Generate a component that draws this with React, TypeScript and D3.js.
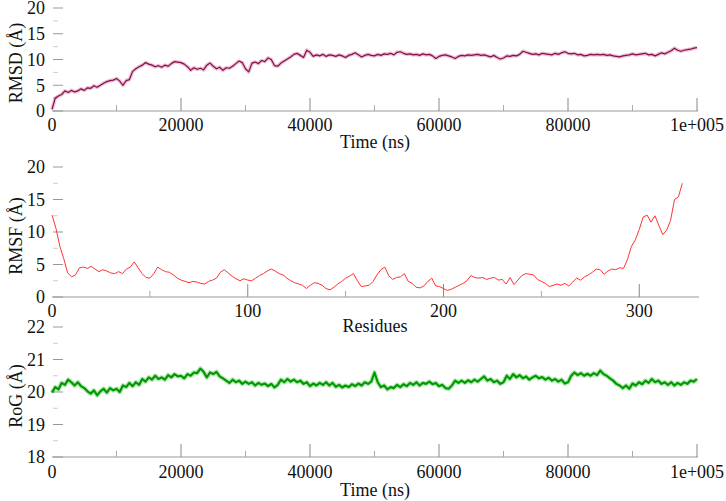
import React from 'react';
import * as d3 from 'd3';

// RMSD (Å), one sample every 500 ns from 0 to 100000 ns
const rmsdValues = [
  0.3, 2.5, 2.9, 3.2, 3.9, 3.6, 4.0, 3.7, 3.9, 4.3,
  4.0, 4.5, 4.4, 4.9, 4.6, 5.0, 5.4, 5.7, 5.9, 6.0,
  6.3, 5.8, 5.0, 5.9, 6.1, 7.7, 8.2, 8.6, 8.9, 9.4,
  9.1, 8.9, 8.6, 8.8, 8.5, 8.9, 8.7, 9.2, 9.6, 9.5,
  9.4, 9.1, 8.6, 7.9, 8.4, 8.1, 8.3, 8.0, 8.9, 9.3,
  8.7, 8.2, 8.5, 7.9, 8.4, 8.3, 8.7, 9.2, 9.7, 9.4,
  8.2, 7.6, 9.3, 9.5, 9.2, 9.8, 9.6, 10.3, 10.0, 8.8,
  8.7, 9.3, 9.7, 10.1, 10.5, 11.0, 11.2, 10.8, 10.4, 11.8,
  11.4, 10.6, 10.9, 10.7, 11.0, 10.6, 10.9, 10.8, 10.6, 10.9,
  10.7, 10.4, 10.8, 11.0, 11.3, 10.9, 10.5, 10.8, 11.0, 10.8,
  10.7, 11.0, 10.8, 11.1, 11.0, 11.2, 10.9, 11.4, 11.5, 11.2,
  11.0, 11.1, 10.9, 11.0, 10.8, 11.1, 10.9, 11.0, 10.7, 10.2,
  10.6, 10.8, 10.9, 10.7, 10.5, 10.2, 10.6, 10.8, 10.7, 10.9,
  10.8, 10.9, 11.0, 10.8, 10.9, 10.7, 10.5, 10.8, 10.4, 10.1,
  10.3, 10.7, 10.6, 10.8, 10.7, 11.0, 11.6, 11.4, 11.2, 11.0,
  11.1, 10.9, 11.2, 11.1, 11.0, 10.9, 11.2, 11.0, 11.3, 11.5,
  11.2, 11.1, 11.2, 10.9, 11.0, 10.7, 10.8, 11.0, 10.9, 11.0,
  10.9, 11.0, 10.8, 10.9, 10.7, 10.6, 10.5, 10.7, 10.8, 10.9,
  11.1, 10.9, 11.0, 11.1, 11.2, 10.9, 11.0, 10.7, 11.0, 11.3,
  11.1, 11.4, 11.7, 12.2, 11.8, 11.6, 11.8, 11.9, 12.0, 12.2,
  12.3,
];

// RMSF (Å), every second residue from 0 to 322
const rmsfValues = [
  12.6, 10.6, 7.8, 5.9, 3.7, 3.1, 3.4, 4.5, 4.6, 4.4,
  4.7, 4.3, 3.9, 4.2, 4.0, 3.7, 3.6, 3.9, 3.6, 4.3,
  4.6, 5.4, 4.5, 3.6, 3.0, 2.9, 3.6, 4.6, 4.2, 3.9,
  3.8, 3.4, 2.9, 2.6, 2.4, 2.2, 2.4, 2.3, 2.1, 2.0,
  2.4, 2.6, 2.9, 3.8, 4.2, 3.7, 3.2, 2.8, 2.5, 2.8,
  2.6, 2.5, 2.9, 3.3, 3.6, 4.0, 4.3, 4.0, 3.6, 3.4,
  2.9, 2.5, 2.2, 2.0, 1.8, 1.3, 1.8, 2.2, 2.1, 1.8,
  1.3, 1.1, 1.5, 2.0, 2.4, 2.9, 3.2, 3.6, 2.5, 1.6,
  1.7, 1.8, 2.4, 3.4, 4.2, 4.6, 3.3, 2.7, 3.0, 3.1,
  3.6, 2.4, 2.1, 1.5, 1.4, 1.7, 2.4, 2.9, 1.7, 1.6,
  1.3, 1.0, 1.2, 1.5, 1.8, 2.1, 2.5, 3.3, 3.0, 2.9,
  3.0, 2.7, 2.9, 3.0, 2.6, 2.7, 2.0, 3.0, 1.9, 2.6,
  3.3, 3.6, 3.5, 3.4, 2.7, 2.4, 2.1, 1.6, 1.8, 2.0,
  1.8, 2.1, 1.7, 2.3, 2.9, 2.6, 3.1, 3.4, 3.8, 4.3,
  4.2, 3.5, 4.0, 4.3, 4.2, 4.5, 4.4, 5.8, 7.8, 8.8,
  10.4, 12.3, 12.6, 11.5, 12.5, 11.0, 9.6, 10.3, 11.8, 15.0,
  15.4, 17.5,
];

// RoG (Å), one sample every 500 ns
const rogValues = [
  19.98, 20.15, 20.08, 20.28, 20.22, 20.38, 20.3, 20.2, 20.3, 20.18,
  20.12, 20.02, 19.95, 20.05, 19.9, 20.02, 20.1, 19.98, 20.12, 20.05,
  20.1, 20.0, 20.2, 20.15, 20.28, 20.18, 20.3, 20.22, 20.4, 20.32,
  20.45, 20.38, 20.5, 20.4, 20.45, 20.38, 20.52, 20.45, 20.55, 20.48,
  20.5, 20.42, 20.55, 20.5, 20.6, 20.58, 20.72, 20.62, 20.45, 20.6,
  20.55, 20.62, 20.48, 20.42, 20.35, 20.28, 20.38, 20.3, 20.35, 20.25,
  20.32, 20.25, 20.3, 20.2, 20.28, 20.22, 20.26, 20.18, 20.25, 20.14,
  20.22, 20.38, 20.3, 20.4, 20.32, 20.38, 20.3, 20.35, 20.25, 20.3,
  20.18, 20.26, 20.2, 20.28, 20.22, 20.3, 20.2, 20.28, 20.16, 20.22,
  20.14, 20.2, 20.15, 20.24, 20.18, 20.26, 20.2, 20.3, 20.25, 20.32,
  20.6, 20.3, 20.15, 20.2, 20.08, 20.15, 20.12, 20.22, 20.15, 20.24,
  20.18, 20.28, 20.22, 20.3, 20.2, 20.28, 20.25, 20.32, 20.24, 20.28,
  20.18, 20.22, 20.12, 20.1, 20.2, 20.35, 20.28, 20.35, 20.28, 20.36,
  20.3, 20.38, 20.32, 20.4, 20.48, 20.35, 20.4, 20.3, 20.35, 20.25,
  20.3, 20.5, 20.4, 20.55, 20.45, 20.52, 20.42, 20.48, 20.38, 20.45,
  20.5, 20.42, 20.46, 20.38, 20.44, 20.35, 20.4, 20.32, 20.38, 20.26,
  20.3, 20.5, 20.6, 20.52, 20.58, 20.5, 20.56, 20.5, 20.58, 20.52,
  20.66, 20.55, 20.5, 20.42, 20.35, 20.25, 20.2, 20.12, 20.2, 20.1,
  20.26, 20.2, 20.3, 20.24, 20.35, 20.28, 20.4, 20.3, 20.35, 20.25,
  20.3, 20.22, 20.3, 20.2, 20.28, 20.22, 20.3, 20.25, 20.35, 20.32,
  20.4,
];

const TIME_END = 100000;
const RESIDUE_STEP = 2;

const timeTicks = [0, 20000, 40000, 60000, 80000, 100000];
const timeTickLabels = ['0', '20000', '40000', '60000', '80000', '1e+005'];
const timeMinorTicks = [10000, 30000, 50000, 70000, 90000];
const residueTicks = [0, 100, 200, 300];
const residueTickLabels = ['0', '100', '200', '300'];
const residueMinorTicks = [50, 150, 250];
const rmsYTicks = [0, 5, 10, 15, 20];
const rmsYMinor = [2.5, 7.5, 12.5, 17.5];
const rogYTicks = [18, 19, 20, 21, 22];
const rogYMinor = [18.5, 19.5, 20.5, 21.5];

const FONT = '"Liberation Serif", "Times New Roman", serif';

type PanelProps = {
  values: number[];
  xOf: (i: number, n: number) => number;
  xDomain: [number, number];
  xRange: [number, number];
  yDomain: [number, number];
  top: number;
  bottom: number;
  xTicks: number[];
  xTickLabels: string[];
  xMinor: number[];
  yTicks: number[];
  yMinor: number[];
  xTitle: string;
  yTitle: string;
  color: string;
  halo?: string;
  strokeWidth: number;
  tickBaseline: number;
  titleBaseline: number;
  yTitleY: number;
};

function Panel(p: PanelProps) {
  const x = d3.scaleLinear().domain(p.xDomain).range(p.xRange);
  const y = d3.scaleLinear().domain(p.yDomain).range([p.bottom, p.top]);
  const n = p.values.length;
  const line = d3
    .line<number>()
    .x((d, i) => x(p.xOf(i, n)))
    .y((d) => y(d));
  const x0 = x(p.xDomain[0]);
  const d = line(p.values) || '';

  return (
    <g>
      {/* y ticks */}
      {p.yMinor.map((t) => (
        <line key={'ym' + t} x1={x0 + 1} x2={x0 + 6} y1={y(t)} y2={y(t)} stroke="#cccccc" strokeWidth={1} />
      ))}
      {p.yTicks.map((t) => (
        <line key={'yt' + t} x1={x0 + 1} x2={x0 + 11} y1={y(t)} y2={y(t)} stroke="#999999" strokeWidth={1} />
      ))}
      {p.yTicks.map((t) => (
        <text key={'yl' + t} x={45} y={y(t)} dy="0.35em" textAnchor="end" fontFamily={FONT} fontSize={18} fill="#111">
          {t}
        </text>
      ))}
      {/* x axis */}
      <line x1={x0} x2={p.xRange[1] + 1} y1={p.bottom} y2={p.bottom} stroke="#999999" strokeWidth={1} />
      {p.xMinor.map((t) => (
        <line key={'xm' + t} x1={x(t)} x2={x(t)} y1={p.bottom} y2={p.bottom - 6} stroke="#aaaaaa" strokeWidth={1} />
      ))}
      {p.xTicks.filter((t) => t !== p.xDomain[0]).map((t) => (
        <line key={'xt' + t} x1={x(t)} x2={x(t)} y1={p.bottom} y2={p.bottom - 13} stroke="#888888" strokeWidth={1} />
      ))}
      {p.xTicks.map((t, i) => (
        <text key={'xl' + t} x={x(t)} y={p.tickBaseline} textAnchor="middle" fontFamily={FONT} fontSize={18} fill="#111">
          {p.xTickLabels[i]}
        </text>
      ))}
      <text x={375} y={p.titleBaseline} textAnchor="middle" fontFamily={FONT} fontSize={18} fill="#111">
        {p.xTitle}
      </text>
      <text
        transform={`translate(22,${p.yTitleY}) rotate(-90)`}
        textAnchor="middle"
        fontFamily={FONT}
        fontSize={18}
        fill="#111"
      >
        {p.yTitle}
      </text>
      {p.halo && <path d={d} fill="none" stroke={p.halo} strokeWidth={p.strokeWidth + 2.5} strokeOpacity={0.35} strokeLinejoin="round" />}
      <path d={d} fill="none" stroke={p.color} strokeWidth={p.strokeWidth} strokeLinejoin="round" />
    </g>
  );
}

export default function App() {
  const timeOf = (i: number, n: number) => (i * TIME_END) / (n - 1);
  const residueOf = (i: number) => i * RESIDUE_STEP;
  return (
    <svg width={726} height={501} style={{ position: 'absolute', left: 0, top: 0, background: '#fff' }}>
      <Panel
        values={rmsdValues}
        xOf={timeOf}
        xDomain={[0, TIME_END]}
        xRange={[52, 697]}
        yDomain={[0, 20]}
        top={8}
        bottom={111}
        xTicks={timeTicks}
        xTickLabels={timeTickLabels}
        xMinor={timeMinorTicks}
        yTicks={rmsYTicks}
        yMinor={rmsYMinor}
        xTitle="Time (ns)"
        yTitle="RMSD (Å)"
        color="#8b0a50"
        halo="#c0507f"
        strokeWidth={1.2}
        tickBaseline={131}
        titleBaseline={148}
        yTitleY={63}
      />
      <Panel
        values={rmsfValues}
        xOf={residueOf}
        xDomain={[0, 330]}
        xRange={[52, 698]}
        yDomain={[0, 20]}
        top={167}
        bottom={297}
        xTicks={residueTicks}
        xTickLabels={residueTickLabels}
        xMinor={residueMinorTicks}
        yTicks={rmsYTicks}
        yMinor={rmsYMinor}
        xTitle="Residues"
        yTitle="RMSF (Å)"
        color="#ff3333"
        strokeWidth={1}
        tickBaseline={317}
        titleBaseline={332}
        yTitleY={236}
      />
      <Panel
        values={rogValues}
        xOf={timeOf}
        xDomain={[0, TIME_END]}
        xRange={[52, 697]}
        yDomain={[18, 22]}
        top={327}
        bottom={457}
        xTicks={timeTicks}
        xTickLabels={timeTickLabels}
        xMinor={timeMinorTicks}
        yTicks={rogYTicks}
        yMinor={rogYMinor}
        xTitle="Time (ns)"
        yTitle="RoG (Å)"
        color="#009a00"
        halo="#33c033"
        strokeWidth={2.2}
        tickBaseline={478}
        titleBaseline={496}
        yTitleY={396}
      />
    </svg>
  );
}
